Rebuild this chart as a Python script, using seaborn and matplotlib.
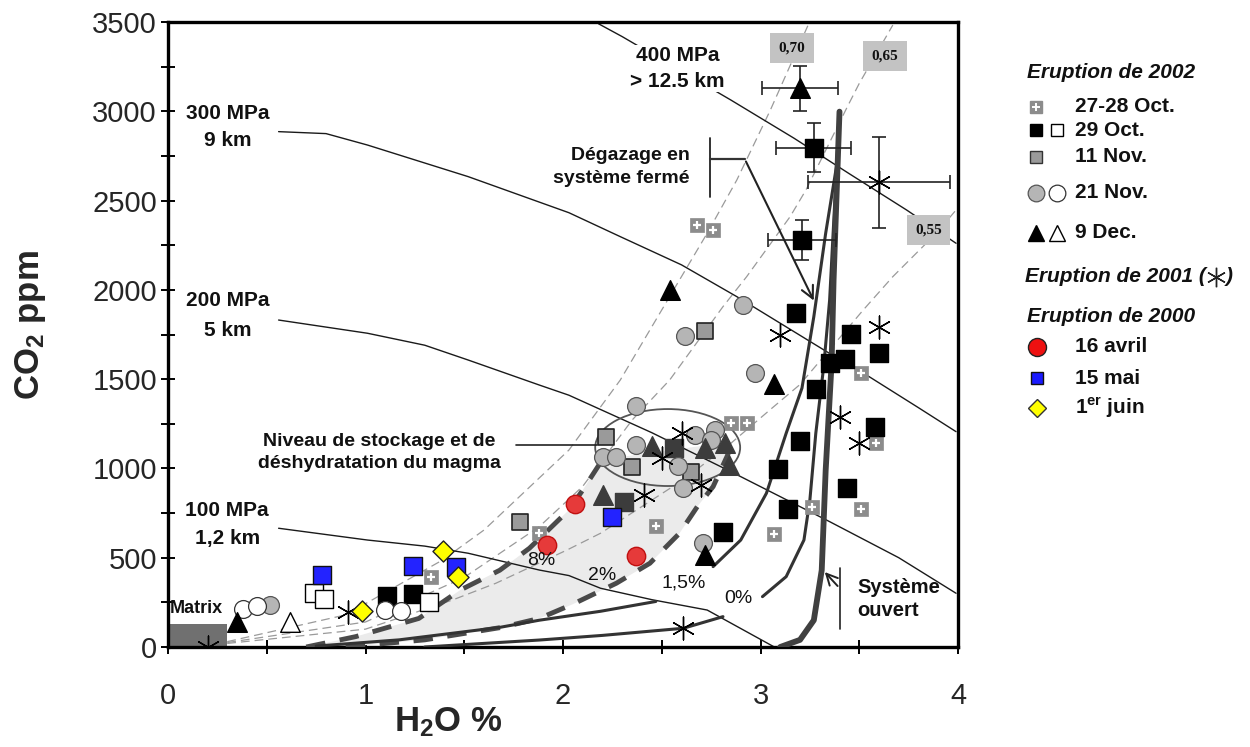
import numpy as np
import pandas as pd
import matplotlib
matplotlib.use("Agg")
import matplotlib.pyplot as plt
import seaborn as sns
from matplotlib.patches import Rectangle, Ellipse

sns.set_theme(style="white")
plt.rcParams['font.family'] = ['Liberation Sans', 'DejaVu Sans']
plt.rcParams['mathtext.fontset'] = 'custom'
plt.rcParams['mathtext.rm'] = 'Liberation Sans'
plt.rcParams['mathtext.bf'] = 'Liberation Sans:bold'
plt.rcParams['mathtext.it'] = 'Liberation Sans:italic'

# ---------------- data ----------------
oct2728_x = [2.68, 2.76, 2.85, 2.93, 3.51, 3.585, 2.47, 3.26, 3.07, 3.51, 1.88, 1.33]
oct2728_y = [2363, 2335, 1252, 1252, 1536, 1141, 678, 782, 631, 773, 637, 390]

oct29_x = [3.27, 3.21, 3.18, 3.46, 3.60, 3.35, 3.43, 3.28, 3.58, 3.20, 3.09, 3.14, 3.44, 2.81, 1.11, 1.24]
oct29_y = [2796, 2279, 1869, 1751, 1648, 1589, 1613, 1445, 1234, 1154, 995, 771, 889, 646, 285, 297]
oct29_in_x = [2.56, 2.31]
oct29_in_y = [1113, 814]
oct29_open_x = [0.74, 0.79, 1.32]
oct29_open_y = [300, 270, 250]

nov11_x = [2.72, 1.78, 2.22, 2.35, 2.65]
nov11_y = [1770, 702, 1174, 1010, 982]

nov21_x = [2.91, 2.62, 2.97, 2.37, 2.20, 2.27, 2.37, 2.58, 2.61, 2.67, 2.77, 2.75, 2.71, 0.515]
nov21_y = [1915, 1743, 1533, 1350, 1066, 1066, 1131, 1014, 889, 1187, 1215, 1159, 584, 235]
nov21_open_x = [0.38, 0.45, 1.10, 1.18]
nov21_open_y = [215, 230, 210, 200]

dec9_x = [3.20, 2.54, 3.07, 2.72, 0.35]
dec9_y = [3129, 1999, 1473, 515, 142]
dec9_in_x = [2.45, 2.72, 2.82, 2.20, 2.84]
dec9_in_y = [1126, 1113, 1141, 851, 1019]
dec9_open_x = [0.62]
dec9_open_y = [142]

e2001_x = [3.60, 3.10, 3.60, 3.40, 3.50, 2.60, 2.50, 2.41, 2.70, 2.61, 0.91, 0.20]
e2001_y = [2602, 1747, 1794, 1290, 1141, 1197, 1057, 851, 907, 105, 198, 0]

avril16_x = [2.06, 1.92, 2.37]
avril16_y = [801, 571, 510]
mai15_x = [2.25, 1.24, 1.46, 0.78]
mai15_y = [730, 454, 450, 403]
juin1_x = [1.39, 1.47, 0.98]
juin1_y = [538, 394, 203]

err_x = [3.27, 3.21, 3.20, 3.60]
err_y = [2796, 2279, 3129, 2602]
err_dx = [0.19, 0.17, 0.19, 0.36]
err_dy = [137, 110, 125, 256]

# isobars
iso100_x = [0.56, 1.01, 1.30, 1.52, 1.88, 2.03, 2.19, 2.45, 2.73, 3.07]
iso100_y = [665, 599, 565, 525, 431, 400, 329, 265, 207, 0]
iso200_x = [0.56, 1.01, 1.30, 1.52, 1.88, 2.03, 2.45, 2.85, 3.35, 3.70, 3.99]
iso200_y = [1831, 1757, 1690, 1607, 1467, 1410, 1200, 982, 702, 500, 301]
iso300_x = [0.56, 0.80, 1.01, 1.52, 2.03, 2.29, 2.60, 2.88, 3.335, 3.55, 3.80, 3.99]
iso300_y = [2886, 2875, 2811, 2634, 2432, 2298, 2140, 1962, 1654, 1514, 1340, 1206]
iso400_x = [2.18, 2.30, 2.85, 3.17, 3.45, 3.74, 3.99]
iso400_y = [3490, 3418, 3063, 2849, 2650, 2447, 2261]

# fluid composition isopleths
xA_x = [0.30, 0.90, 1.39, 1.60, 1.86, 2.03, 2.29, 2.58, 2.73, 2.88, 3.05, 3.24]
xA_y = [30, 180, 487, 655, 926, 1103, 1495, 2037, 2317, 2615, 3007, 3480]
xB_x = [0.30, 1.00, 1.50, 1.88, 2.10, 2.35, 2.54, 2.81, 2.93, 3.15, 3.23, 3.44, 3.50, 3.67]
xB_y = [25, 140, 390, 674, 900, 1271, 1495, 1906, 2074, 2410, 2559, 3026, 3156, 3483]
xC_x = [0.30, 1.00, 1.44, 1.66, 2.02, 2.19, 2.60, 2.83, 3.05, 3.20, 3.52, 3.67, 3.89, 4.00]
xC_y = [20, 100, 263, 357, 543, 637, 930, 1122, 1330, 1470, 1887, 2074, 2317, 2460]

# degassing paths
open_x = [3.10, 3.20, 3.27, 3.31, 3.33, 3.36, 3.37, 3.40]
open_y = [0, 40, 150, 430, 990, 1590, 2055, 2998]
p0_x = [3.01, 3.13, 3.22, 3.25, 3.28, 3.32, 3.35, 3.40]
p0_y = [282, 394, 599, 823, 1197, 1570, 1943, 2998]
p15_x = [2.76, 2.90, 3.03, 3.13, 3.21, 3.27, 3.33, 3.39]
p15_y = [450, 599, 861, 1197, 1450, 1850, 2317, 2727]
low1_x = [0.75, 1.17, 1.68, 1.88, 2.19, 2.47]
low1_y = [5, 40, 110, 150, 200, 255]
low2_x = [1.30, 1.88, 2.20, 2.61, 2.81]
low2_y = [0, 39, 65, 105, 170]
p8_x = [0.70, 0.95, 1.27, 1.48, 1.68, 1.83, 2.03, 2.10, 2.20]
p8_y = [0, 58, 160, 319, 430, 553, 767, 879, 1050]
p2_x = [0.90, 1.30, 1.69, 1.88, 2.05, 2.27, 2.44, 2.59, 2.68, 2.76, 2.83, 2.86]
p2_y = [0, 40, 110, 160, 240, 357, 469, 637, 786, 898, 1066, 1150]

# ---------------- figure ----------------
fig = plt.figure(figsize=(12.5, 7.47), dpi=100)
ax = fig.add_axes([168/1250, 1-647/747, 790/1250, 625/747])
ax.set_xlim(0, 4)
ax.set_ylim(0, 3500)

# shaded zone between 8% and 2%
poly_x = p8_x + p2_x[::-1]
poly_y = p8_y + p2_y[::-1]
ax.fill(poly_x, poly_y, color='#ebebeb', zorder=1, lw=0)

def line(x, y, **kw):
    sns.lineplot(x=x, y=y, sort=False, estimator=None, ax=ax, legend=False, **kw)

for xs, ys in [(xA_x, xA_y), (xB_x, xB_y), (xC_x, xC_y)]:
    line(xs, ys, color='#9a9a9a', lw=0.9, linestyle=(0, (7, 4)), zorder=2)
for xs, ys in [(iso100_x, iso100_y), (iso200_x, iso200_y), (iso300_x, iso300_y), (iso400_x, iso400_y)]:
    line(xs, ys, color='#1a1a1a', lw=1.0, zorder=2)

line(p8_x, p8_y, color='#4a4a4a', lw=3.5, linestyle=(0, (4, 3)), zorder=3)
line(p2_x, p2_y, color='#4a4a4a', lw=3.5, linestyle=(0, (4, 3)), zorder=3)
for xs, ys in [(p0_x, p0_y), (p15_x, p15_y), (low1_x, low1_y), (low2_x, low2_y)]:
    line(xs, ys, color='#333333', lw=2.2, zorder=3)
line(open_x, open_y, color='#404040', lw=4.2, zorder=3)

# matrix box and ellipse
ax.add_patch(Rectangle((0, 0), 0.3, 130, facecolor='#707070', edgecolor='none', zorder=2))
ax.add_patch(Ellipse((2.53, 1117), 0.734, 431, facecolor='none', edgecolor='#555555', lw=1.3, zorder=4))

# error bars
ax.errorbar(err_x, err_y, xerr=err_dx, yerr=err_dy, fmt='none', ecolor='#222222',
            elinewidth=1.2, capsize=5, capthick=1.2, zorder=4)

# ---------------- markers ----------------
def sc(x, y, marker, s, fc, ec, lw=1.0, z=6):
    sns.scatterplot(x=x, y=y, marker=marker, s=s, color=fc, edgecolor=ec, linewidth=lw,
                    ax=ax, legend=False, zorder=z)

sc(oct2728_x, oct2728_y, 's', 95, '#8c8c8c', '#8c8c8c', 0.5)
ax.scatter(oct2728_x, oct2728_y, marker='+', s=32, color='white', linewidths=1.6, zorder=6.5)
sc(oct29_x, oct29_y, 's', 160, 'black', 'black')
sc(oct29_in_x, oct29_in_y, 's', 160, '#3c3c3c', '#3c3c3c')
sc(oct29_open_x, oct29_open_y, 's', 150, 'white', 'black', 1.0)
sc(nov11_x, nov11_y, 's', 140, '#9a9a9a', '#222222', 1.2)
sc(nov21_x, nov21_y, 'o', 165, '#b5b5b5', '#555555', 0.9)
sc(nov21_open_x, nov21_open_y, 'o', 165, 'white', '#333333', 0.9)
sc(dec9_x, dec9_y, '^', 200, 'black', 'black')
sc(dec9_in_x, dec9_in_y, '^', 200, '#3c3c3c', '#3c3c3c')
sc(dec9_open_x, dec9_open_y, '^', 200, 'white', 'black', 1.0)
sc(e2001_x, e2001_y, (6, 2, 0), 270, 'black', 'black', 1.0)
sc(avril16_x, avril16_y, 'o', 175, '#e63a3a', '#c01010', 1.0)
sc(mai15_x, mai15_y, 's', 175, '#2323ff', '#111111', 1.0)
sc(juin1_x, juin1_y, 'D', 115, '#ffff00', '#222222', 1.0)

# ---------------- annotations ----------------
bf = dict(fontweight='bold', color='#111111')
for s, xx, yy in [("300 MPa", 0.30, 2990), ("9 km", 0.30, 2834),
                  ("200 MPa", 0.30, 1943), ("5 km", 0.30, 1775),
                  ("100 MPa", 0.30, 762), ("1,2 km", 0.30, 605)]:
    ax.text(xx, yy, s, ha='center', va='center', fontsize=15, zorder=7, **bf)
ax.text(2.58, 3240, "400 MPa\n> 12.5 km", ha='center', va='center', fontsize=15,
        linespacing=1.45, zorder=7, bbox=dict(facecolor='white', edgecolor='none', pad=1), **bf)
ax.text(1.07, 1090, "Niveau de stockage et de\ndéshydratation du magma", ha='center', va='center',
        fontsize=14, linespacing=1.35, zorder=7, **bf)
ax.plot([1.76, 2.17], [1131, 1131], color='#222222', lw=1.2, zorder=4)
ax.text(2.64, 2690, "Dégazage en\nsystème fermé", ha='right', va='center', fontsize=14,
        linespacing=1.45, zorder=7, **bf)
ax.plot([2.744, 2.744], [2850, 2520], color='#222222', lw=1.3, zorder=4)
ax.plot([2.744, 2.92], [2733, 2733], color='#333333', lw=1.6, zorder=4)
ax.annotate("", xy=(3.276, 1926), xytext=(2.92, 2733),
            arrowprops=dict(arrowstyle='->', color='#222222', lw=1.5, mutation_scale=22), zorder=5)
ax.text(3.49, 270, "Système\nouvert", ha='left', va='center', fontsize=14.5, linespacing=1.3,
        zorder=7, **bf)
ax.plot([3.40, 3.40], [442, 101], color='#222222', lw=1.2, zorder=4)
ax.annotate("", xy=(3.316, 431), xytext=(3.40, 330),
            arrowprops=dict(arrowstyle='->', color='#222222', lw=1.4, mutation_scale=20), zorder=5)
for s, xx, yy in [("8%", 1.89, 487), ("2%", 2.20, 403), ("1,5%", 2.61, 358), ("0%", 2.89, 274)]:
    ax.text(xx, yy, s, ha='center', va='center', fontsize=14, color='#111111', zorder=7)
ax.text(0.01, 218, "Matrix", ha='left', va='center', fontsize=13, zorder=7, **bf)
for s, xx, yy in [("0,70", 3.16, 3354), ("0,65", 3.63, 3310), ("0,55", 3.85, 2335)]:
    ax.text(xx, yy, s, ha='center', va='center', fontsize=11, fontweight='bold',
            family='Liberation Serif', color='#111111', zorder=7,
            bbox=dict(facecolor='#c3c3c3', edgecolor='none', boxstyle='square,pad=0.55'))

# ---------------- axes styling ----------------
ax.set_xticks([0, 1, 2, 3, 4])
ax.set_xticks([0.5, 1.5, 2.5, 3.5], minor=True)
ax.set_yticks(np.arange(0, 3501, 500))
ax.set_yticks(np.arange(250, 3500, 500), minor=True)
ax.tick_params(axis='both', which='both', direction='inout', length=10, width=1.4,
               color='black', bottom=True, left=True)
ax.tick_params(axis='y', which='major', labelsize=21, pad=3)
ax.tick_params(axis='x', which='major', labelsize=21, pad=20)
ax.set_xlabel("")
ax.set_ylabel("")
for sp in ax.spines.values():
    sp.set_linewidth(2.4)
    sp.set_color('black')
ax.grid(False)

fig.text(30/1250, 1-325/747, r"CO$_\mathbf{2}$ ppm", rotation=90, ha='center', va='center',
         fontsize=25, fontweight='bold')
fig.text(448/1250, 1-722/747, r"H$_\mathbf{2}$O %", ha='center', va='center',
         fontsize=25, fontweight='bold')

# ---------------- legend (pixel coordinates) ----------------
lg = fig.add_axes([0, 0, 1, 1], zorder=10)
lg.set_xlim(0, 1250)
lg.set_ylim(747, 0)
lg.axis('off')
lg.patch.set_alpha(0)

def lt(x, y, s, **kw):
    return lg.text(x, y, s, ha='left', va='center', fontsize=15, fontweight='bold', color='#111111', **kw)

lt(1027, 73, "Eruption de 2002", style='italic')
lt(1075, 106, "27-28 Oct.")
lt(1075, 130, "29 Oct.")
lt(1075, 156, "11 Nov.")
lt(1075, 193, "21 Nov.")
lt(1075, 233, "9 Dec.")
t01 = lt(1025, 277, "Eruption de 2001 (", style='italic')
lt(1027, 317, "Eruption de 2000", style='italic')
lt(1075, 347, "16 avril")
lt(1075, 378, "15 mai")
lt(1075, 408, r"1$^{\mathbf{er}}$ juin")

lg.plot([1036], [107], marker='s', ms=9, mfc='#8c8c8c', mec='#8c8c8c', ls='none')
lg.plot([1036], [107], marker='+', ms=6, mec='white', mew=1.4, ls='none')
lg.plot([1036], [130], marker='s', ms=9, mfc='black', mec='black', ls='none')
lg.plot([1057], [130], marker='s', ms=8, mfc='white', mec='black', mew=1, ls='none')
lg.plot([1036], [157], marker='s', ms=9, mfc='#9a9a9a', mec='#333333', mew=1, ls='none')
lg.plot([1036], [193], marker='o', ms=12, mfc='#b5b5b5', mec='#555555', mew=0.9, ls='none')
lg.plot([1057], [193], marker='o', ms=12, mfc='white', mec='#333333', mew=0.9, ls='none')
lg.plot([1036], [233], marker='^', ms=12, mfc='black', mec='black', ls='none')
lg.plot([1057], [233], marker='^', ms=12, mfc='white', mec='black', mew=1, ls='none')
lg.plot([1037], [347], marker='o', ms=13, mfc='#ee1111', mec='#222222', mew=1, ls='none')
lg.plot([1037], [378], marker='s', ms=9, mfc='#1a1aff', mec='#111111', mew=1, ls='none')
lg.plot([1037], [408], marker='D', ms=9, mfc='#ffff00', mec='#333333', mew=1, ls='none')

fig.canvas.draw()
bb = t01.get_window_extent(renderer=fig.canvas.get_renderer())
xr = bb.x1
lg.plot([xr + 10], [277], marker=(6, 2, 0), ms=14, mec='#222222', mew=1, ls='none')
lg.text(xr + 20, 277, ")", ha='left', va='center', fontsize=15, fontweight='bold',
        style='italic', color='#111111')

fig.savefig("out.png", dpi=100)
